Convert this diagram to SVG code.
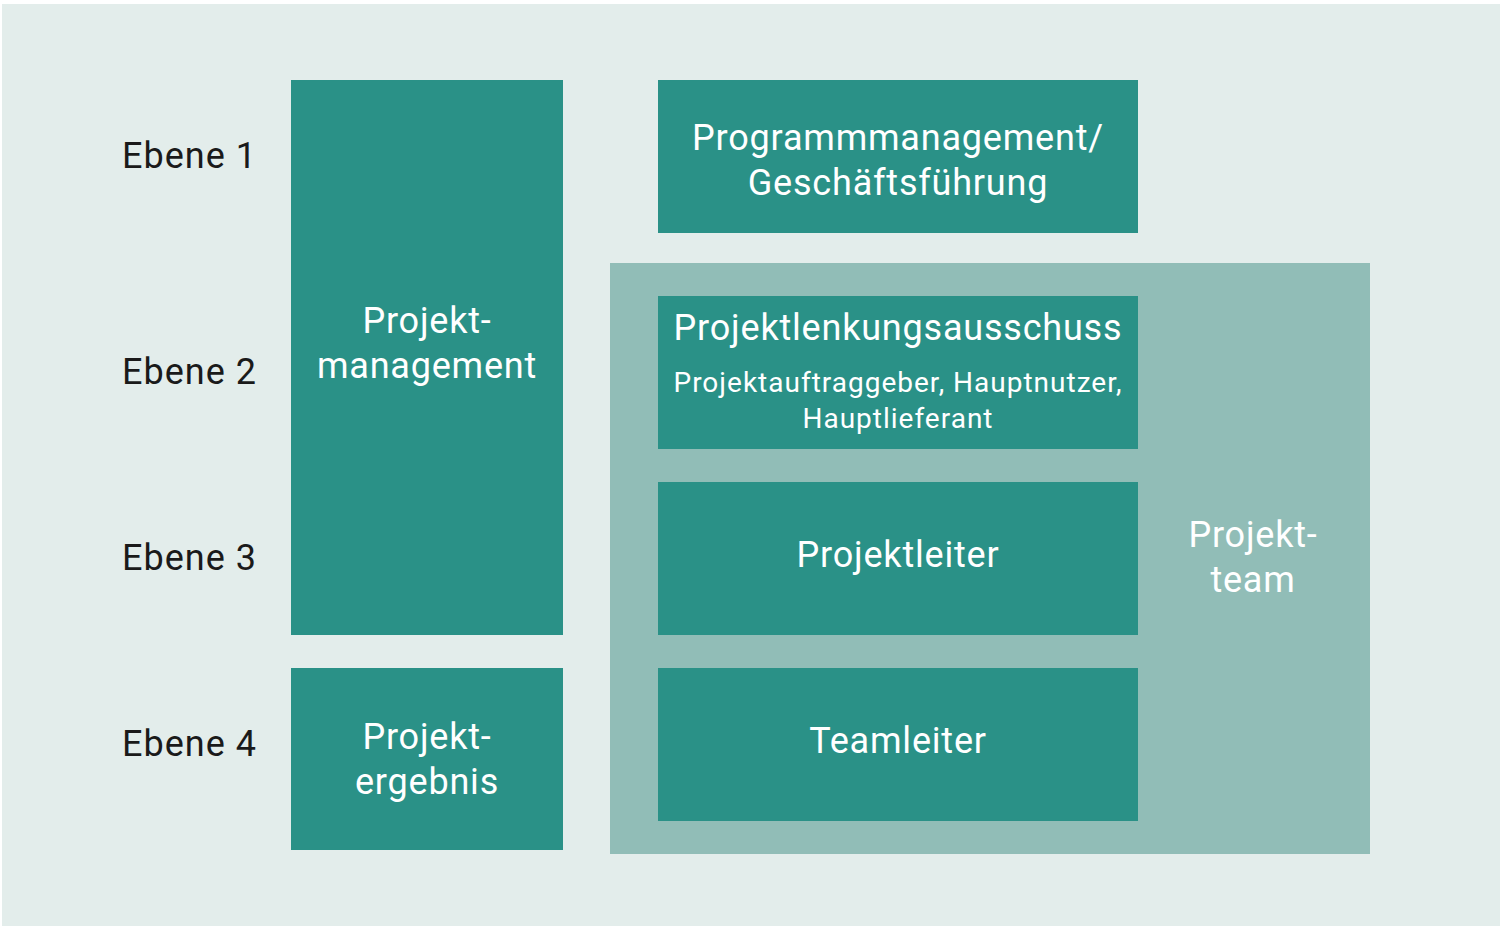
<svg xmlns="http://www.w3.org/2000/svg" width="1500" height="926" viewBox="0 0 1500 926">
<style>
.dark{fill:#2a9187}
.light{fill:#91bdb7}
.t{font-family:Roboto,"Liberation Sans",sans-serif;fill:#ffffff;text-anchor:middle;font-size:36px;letter-spacing:0.8px}
.s{font-size:28px;letter-spacing:1px}
.lbl{font-family:Roboto,"Liberation Sans",sans-serif;fill:#1a1a1a;font-size:36px;letter-spacing:1px}
</style>
<rect x="0" y="0" width="1500" height="926" fill="#ffffff"/>
<rect x="2" y="4" width="1498" height="922" fill="#e3edeb"/>
<g id="levels">
<text class="lbl" x="122" y="168">Ebene 1</text>
<text class="lbl" x="122" y="384">Ebene 2</text>
<text class="lbl" x="122" y="570">Ebene 3</text>
<text class="lbl" x="122" y="756">Ebene 4</text>
</g>
<g id="projektteam">
<rect class="light" x="610" y="263" width="760" height="591"/>
<text class="t" x="1253" y="547">Projekt-</text>
<text class="t" x="1253" y="592">team</text>
</g>
<g id="projektmanagement">
<rect class="dark" x="291" y="80" width="272" height="555"/>
<text class="t" x="427" y="333">Projekt-</text>
<text class="t" x="427" y="378">management</text>
</g>
<g id="projektergebnis">
<rect class="dark" x="291" y="668" width="272" height="182"/>
<text class="t" x="427" y="749">Projekt-</text>
<text class="t" x="427" y="794">ergebnis</text>
</g>
<g id="programmmanagement">
<rect class="dark" x="658" y="80" width="480" height="153"/>
<text class="t" x="898" y="150">Programmmanagement/</text>
<text class="t" x="898" y="195">Geschäftsführung</text>
</g>
<g id="lenkungsausschuss">
<rect class="dark" x="658" y="296" width="480" height="153"/>
<text class="t" x="898" y="340">Projektlenkungsausschuss</text>
<text class="t s" x="898" y="392">Projektauftraggeber, Hauptnutzer,</text>
<text class="t s" x="898" y="428">Hauptlieferant</text>
</g>
<g id="projektleiter">
<rect class="dark" x="658" y="482" width="480" height="153"/>
<text class="t" x="898" y="567">Projektleiter</text>
</g>
<g id="teamleiter">
<rect class="dark" x="658" y="668" width="480" height="153"/>
<text class="t" x="898" y="753">Teamleiter</text>
</g>
<g id="connectors"></g>
</svg>
